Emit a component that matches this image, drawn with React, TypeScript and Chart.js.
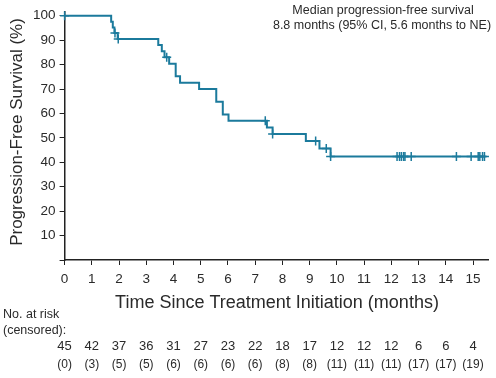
import React, { useEffect, useRef } from "react";
import { Chart, registerables } from "chart.js";

Chart.register(...registerables);

const eventTimes = [0, 1.71, 1.77, 1.83, 1.95, 3.44, 3.57, 3.67, 3.84, 4.08, 4.24, 4.94, 5.57, 5.81, 6.02, 7.43, 7.64, 8.86, 9.36, 9.77, 15.46];
const survival = [100, 97.6, 95.2, 92.9, 90.5, 88.0, 85.5, 83.0, 80.4, 75.2, 72.6, 70.0, 64.8, 59.6, 57.0, 54.3, 51.6, 48.7, 45.7, 42.4, 42.4];

const censorTimes = [0, 1.85, 1.97, 3.75, 7.37, 7.64, 9.22, 9.61, 9.77, 12.21, 12.3, 12.37, 12.45, 12.5, 12.73, 14.39, 14.93, 15.19, 15.25, 15.35, 15.42];
const censorSurvival = [100, 92.9, 90.5, 83.0, 57.0, 51.6, 48.7, 45.7, 42.4, 42.4, 42.4, 42.4, 42.4, 42.4, 42.4, 42.4, 42.4, 42.4, 42.4, 42.4, 42.4];

const riskTimes = [0, 1, 2, 3, 4, 5, 6, 7, 8, 9, 10, 11, 12, 13, 14, 15];
const atRisk = [45, 42, 37, 36, 31, 27, 23, 22, 18, 17, 12, 12, 12, 6, 6, 4];
const censoredCounts = [0, 3, 5, 5, 6, 6, 6, 6, 8, 8, 11, 11, 11, 17, 17, 19];

const yTitle = "Progression-Free Survival (%)";
const xTitle = "Time Since Treatment Initiation (months)";
const noteLines = ["Median progression-free survival", "8.8 months (95% CI, 5.6 months to NE)"];

const FONT = '"Liberation Sans", Arial, sans-serif';
const LINE = "#1b7a9c";
const TEXT = "#2a2a2a";

export default function App() {
  const ref = useRef<HTMLCanvasElement | null>(null);
  useEffect(() => {
    if (!ref.current) return;
    const textPlugin = {
      id: "kmText",
      afterDraw(chart: any) {
        const ctx = chart.ctx;
        const xs = chart.scales.x;
        ctx.save();
        ctx.fillStyle = TEXT;
        ctx.textBaseline = "middle";
        ctx.save();
        ctx.translate(17, 132);
        ctx.rotate(-Math.PI / 2);
        ctx.textAlign = "center";
        ctx.font = `17px ${FONT}`;
        ctx.fillText(yTitle, 0, 0);
        ctx.restore();
        ctx.textAlign = "center";
        ctx.font = `12.5px ${FONT}`;
        ctx.fillText(noteLines[0], 383, 11);
        ctx.fillText(noteLines[1], 382, 26);
        ctx.font = `18px ${FONT}`;
        ctx.fillText(xTitle, 277, 303);
        ctx.textAlign = "left";
        ctx.font = `12.5px ${FONT}`;
        ctx.fillText("No. at risk", 3, 315);
        ctx.fillText("(censored):", 3, 331);
        ctx.textAlign = "center";
        riskTimes.forEach((t, i) => {
          const px = xs.getPixelForValue(t);
          ctx.font = `13px ${FONT}`;
          ctx.fillText(String(atRisk[i]), px, 346);
          ctx.font = `12px ${FONT}`;
          ctx.fillText(`(${censoredCounts[i]})`, px, 365);
        });
        ctx.restore();
      },
    };
    const chart = new Chart(ref.current, {
      type: "scatter",
      data: {
        datasets: [
          {
            data: eventTimes.map((t, i) => ({ x: t, y: survival[i] })),
            showLine: true,
            stepped: "before",
            borderColor: LINE,
            borderWidth: 2,
            pointRadius: 0,
            clip: false,
          } as any,
          {
            data: censorTimes.map((t, i) => ({ x: t, y: censorSurvival[i] })),
            showLine: false,
            pointStyle: "cross",
            pointRadius: 4.5,
            borderColor: LINE,
            borderWidth: 1.5,
            clip: false,
          } as any,
        ],
      },
      options: {
        animation: false,
        responsive: false,
        layout: { padding: { left: 0, right: 8, top: 6.25, bottom: 0 } },
        plugins: { legend: { display: false }, tooltip: { enabled: false } },
        scales: {
          x: {
            type: "linear",
            min: 0,
            max: 15.55,
            afterFit: (s: any) => { s.height = 118; },
            border: { display: true, color: "#222", width: 1.5 },
            grid: { drawOnChartArea: false, drawTicks: true, tickLength: 5, color: "#222", lineWidth: 1 },
            ticks: {
              stepSize: 1,
              includeBounds: false,
              autoSkip: false,
              maxRotation: 0,
              padding: 6,
              color: TEXT,
              font: { family: FONT, size: 13.5 },
            },
          },
          y: {
            min: 0,
            max: 101.5,
            afterFit: (s: any) => { s.width = 64.6; },
            border: { display: true, color: "#222", width: 1.5 },
            grid: { drawOnChartArea: false, drawTicks: true, tickLength: 5, color: "#222", lineWidth: 1 },
            ticks: {
              stepSize: 10,
              includeBounds: false,
              padding: 4,
              color: TEXT,
              font: { family: FONT, size: 13.5 },
              callback: (v: any) => (v === 0 ? "" : String(v)),
            },
          },
        },
      },
      plugins: [textPlugin],
    });
    return () => chart.destroy();
  }, []);
  return (
    <div style={{ position: "absolute", left: 0, top: 0, width: 496, height: 378, background: "#fff" }}>
      <canvas ref={ref} width={496} height={378} />
    </div>
  );
}
